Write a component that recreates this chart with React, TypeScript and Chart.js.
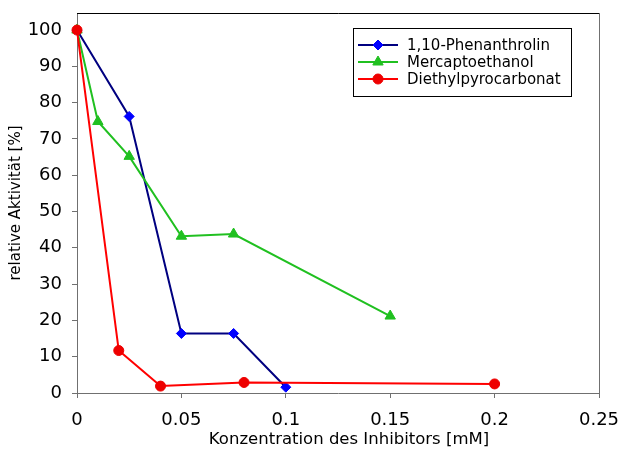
import React, { useEffect, useRef } from "react";
import { Chart, registerables } from "chart.js";

Chart.register(...registerables);

const seriesNames = ["1,10-Phenanthrolin", "Mercaptoethanol", "Diethylpyrocarbonat"];

const phenX = [0, 0.025, 0.05, 0.075, 0.1];
const phenY = [100, 76.2, 16.4, 16.4, 1.6];

const mercX = [0, 0.01, 0.025, 0.05, 0.075, 0.15];
const mercY = [100, 74.8, 65.2, 43.2, 43.8, 21.2];

const diethX = [0, 0.02, 0.04, 0.08, 0.2];
const diethY = [100, 11.7, 1.9, 2.9, 2.5];

const xTicks = [0, 0.05, 0.1, 0.15, 0.2, 0.25];
const xTickLabels = ["0", "0.05", "0.1", "0.15", "0.2", "0.25"];
const yTicks = [0, 10, 20, 30, 40, 50, 60, 70, 80, 90, 100];
const yTickLabels = ["0", "10", "20", "30", "40", "50", "60", "70", "80", "90", "100"];

const xTitle = "Konzentration des Inhibitors [mM]";
const yTitle = "relative Aktivität [%]";

const FONT = "'DejaVu Sans', sans-serif";

const lineColors = ["#000080", "#20c020", "#ff0000"];
const markerColors = ["#0000ff", "#20c020", "#ee0000"];
const markerStyles = ["rectRot", "triangle", "circle"];
const markerRadius = [5, 6, 5];

const toPts = (xs: number[], ys: number[]) => xs.map((x, i) => ({ x, y: ys[i] }));

function drawMarker(ctx: CanvasRenderingContext2D, style: string, r: number, x: number, y: number) {
  ctx.beginPath();
  if (style === "rectRot") {
    ctx.moveTo(x, y - r);
    ctx.lineTo(x + r, y);
    ctx.lineTo(x, y + r);
    ctx.lineTo(x - r, y);
    ctx.closePath();
  } else if (style === "triangle") {
    const h = r * Math.cos(Math.PI / 6);
    ctx.moveTo(x, y - r);
    ctx.lineTo(x + h, y + r / 2);
    ctx.lineTo(x - h, y + r / 2);
    ctx.closePath();
  } else {
    ctx.arc(x, y, r, 0, Math.PI * 2);
  }
  ctx.fill();
  ctx.stroke();
}

export default function App() {
  const ref = useRef<HTMLCanvasElement | null>(null);

  useEffect(() => {
    if (!ref.current) return;
    const framePlugin = {
      id: "frame",
      beforeDraw(chart: any) {
        const ctx = chart.ctx;
        ctx.save();
        ctx.fillStyle = "#ffffff";
        ctx.fillRect(0, 0, chart.width, chart.height);
        ctx.restore();
      },
      afterDatasetsDraw(chart: any) {
        const { ctx, chartArea } = chart;
        ctx.save();
        ctx.lineWidth = 1;
        ctx.strokeStyle = "#000000";
        ctx.beginPath();
        ctx.moveTo(chartArea.left, chartArea.top + 0.5);
        ctx.lineTo(chartArea.right + 0.5, chartArea.top + 0.5);
        ctx.stroke();
        ctx.strokeStyle = "#707070";
        ctx.beginPath();
        ctx.moveTo(chartArea.right + 0.5, chartArea.top);
        ctx.lineTo(chartArea.right + 0.5, chartArea.bottom);
        ctx.stroke();

        // x axis title
        ctx.fillStyle = "#000000";
        ctx.font = `16.5px ${FONT}`;
        ctx.textAlign = "center";
        ctx.textBaseline = "middle";
        ctx.fillText(xTitle, 349, 440);

        // legend
        const lx = 353.5, ly = 28.5, lw = 218, lh = 68;
        ctx.fillStyle = "#ffffff";
        ctx.fillRect(lx, ly, lw, lh);
        ctx.strokeStyle = "#000000";
        ctx.strokeRect(lx, ly, lw, lh);
        const rows = [45, 62, 79];
        ctx.font = `15px ${FONT}`;
        ctx.textBaseline = "middle";
        ctx.textAlign = "left";
        seriesNames.forEach((name, i) => {
          const y = rows[i];
          ctx.strokeStyle = lineColors[i];
          ctx.lineWidth = 2;
          ctx.beginPath();
          ctx.moveTo(358, y);
          ctx.lineTo(398, y);
          ctx.stroke();
          ctx.fillStyle = markerColors[i];
          ctx.strokeStyle = markerColors[i];
          ctx.lineWidth = 1;
          drawMarker(ctx, markerStyles[i], markerRadius[i], 378, y);
          ctx.fillStyle = "#000000";
          ctx.fillText(name, 407, y + 1);
        });
        ctx.restore();
      },
    };

    const datasets = [
      { xs: diethX, ys: diethY, i: 2 },
      { xs: mercX, ys: mercY, i: 1 },
      { xs: phenX, ys: phenY, i: 0 },
    ].map(({ xs, ys, i }) => ({
      label: seriesNames[i],
      data: toPts(xs, ys),
      borderColor: lineColors[i],
      backgroundColor: markerColors[i],
      pointBackgroundColor: markerColors[i],
      pointBorderColor: markerColors[i],
      pointStyle: markerStyles[i] as any,
      pointRadius: markerRadius[i],
      pointBorderWidth: 1,
      borderWidth: 2,
      tension: 0,
      clip: false as any,
    }));

    const chart = new Chart(ref.current, {
      type: "line",
      data: { datasets },
      plugins: [framePlugin],
      options: {
        animation: false,
        responsive: false,
        devicePixelRatio: 1,
        layout: { padding: { top: 13, right: 22, left: 0, bottom: 0 } },
        plugins: { legend: { display: false }, tooltip: { enabled: false } },
        scales: {
          x: {
            type: "linear",
            min: 0,
            max: 0.25,
            afterBuildTicks: (axis: any) => {
              axis.ticks = xTicks.map((v) => ({ value: v }));
            },
            afterFit: (scale: any) => {
              scale.height = 62;
              scale.paddingLeft = 0;
              scale.paddingRight = 0;
              scale.paddingTop = 0;
              scale.paddingBottom = 0;
            },
            ticks: {
              color: "#000",
              font: { family: FONT, size: 18 },
              padding: 12,
              maxRotation: 0,
              autoSkip: false,
              callback: (v: any, idx: number) => xTickLabels[idx],
            },
            grid: { drawOnChartArea: false, tickLength: 5, color: "#707070", lineWidth: 1 },
            border: { color: "#707070", width: 1 },
            title: { display: false },
          },
          y: {
            type: "linear",
            min: 0,
            max: 104.7,
            afterBuildTicks: (axis: any) => {
              axis.ticks = yTicks.map((v) => ({ value: v }));
            },
            afterFit: (scale: any) => {
              scale.width = 77;
              scale.paddingLeft = 0;
              scale.paddingRight = 0;
              scale.paddingTop = 0;
              scale.paddingBottom = 0;
            },
            ticks: {
              color: "#000",
              font: { family: FONT, size: 18 },
              padding: 10,
              autoSkip: false,
              callback: (v: any, idx: number) => yTickLabels[idx],
            },
            grid: { drawOnChartArea: false, tickLength: 5, color: "#707070", lineWidth: 1 },
            border: { color: "#707070", width: 1 },
            title: {
              display: true,
              text: yTitle,
              color: "#000",
              font: { family: FONT, size: 15 },
              padding: { top: 7, bottom: 0 },
            },
          },
        },
      },
    } as any);
    return () => chart.destroy();
  }, []);

  return (
    <div style={{ position: "fixed", left: 0, top: 0, width: 621, height: 455, background: "#fff" }}>
      <canvas ref={ref} width={621} height={455} style={{ display: "block" }} />
    </div>
  );
}
